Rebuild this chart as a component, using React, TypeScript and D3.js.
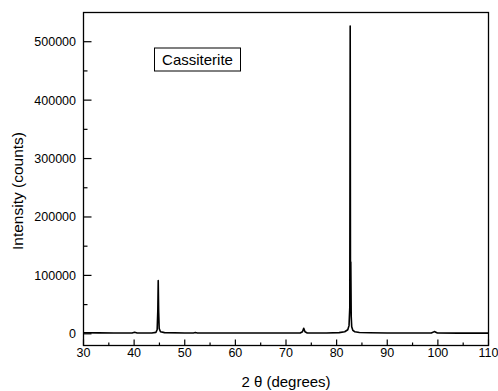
import React from "react";
import * as d3 from "d3";

const twoTheta = [30, 33, 36, 39.6, 40.1, 40.6, 43.5, 44.3, 44.55, 44.68, 44.76, 44.84, 44.95, 45.2, 46, 50, 51.7, 52.1, 52.5, 60, 66, 72.8, 73.25, 73.5, 73.75, 74.2, 78, 80.5, 81.6, 82.2, 82.45, 82.6, 82.68, 82.74, 82.8, 82.88, 82.98, 83.2, 83.6, 84.5, 86.5, 90, 95, 98.7, 99.3, 99.9, 104, 110];
const intensity = [1800, 1600, 1500, 1500, 2600, 1500, 1500, 2500, 7000, 40000, 91000, 40000, 9000, 3500, 2000, 1500, 1500, 2200, 1500, 1400, 1300, 1300, 3500, 9500, 3500, 1500, 1400, 2000, 3500, 7000, 14000, 45000, 527000, 50000, 123000, 30000, 12000, 6000, 3500, 2200, 1700, 1400, 1300, 1300, 3800, 1300, 1200, 1100];

const xMajor = [30, 40, 50, 60, 70, 80, 90, 100, 110];
const xMinor = [35, 45, 55, 65, 75, 85, 95, 105];
const yMajor = [0, 100000, 200000, 300000, 400000, 500000];
const yMinor = [50000, 150000, 250000, 350000, 450000];

const W = 498, H = 391;
const L = 83.5, R = 488.5, T = 12.5, B = 345.5;

export default function App() {
  const x = d3.scaleLinear().domain([30, 110]).range([L, R]);
  const y = d3.scaleLinear().domain([-20000, 550000]).range([B, T]);
  const pts = twoTheta.map((t, i) => [t, intensity[i]] as [number, number]);
  const line = d3.line<[number, number]>().x(d => x(d[0])).y(d => y(d[1]));
  const font = "'Liberation Sans', Arial, sans-serif";
  return (
    <svg width={W} height={H} style={{ position: "absolute", left: 0, top: 0, background: "#fff" }}>
      <path d={line(pts) || ""} fill="none" stroke="#000" strokeWidth={1.6} strokeLinejoin="round" />
      <rect x={L} y={T} width={R - L} height={B - T} fill="none" stroke="#000" strokeWidth={1.3} />
      {xMajor.map(v => (
        <line key={"xM" + v} x1={x(v)} x2={x(v)} y1={B} y2={B - 6} stroke="#000" strokeWidth={1.2} />
      ))}
      {xMinor.map(v => (
        <line key={"xm" + v} x1={x(v)} x2={x(v)} y1={B} y2={B - 3} stroke="#000" strokeWidth={1.2} />
      ))}
      {yMajor.map(v => (
        <line key={"yM" + v} x1={L} x2={L + 8} y1={y(v)} y2={y(v)} stroke="#000" strokeWidth={1.2} />
      ))}
      {yMinor.map(v => (
        <line key={"ym" + v} x1={L} x2={L + 4} y1={y(v)} y2={y(v)} stroke="#000" strokeWidth={1.2} />
      ))}
      {xMajor.map(v => (
        <text key={"xl" + v} x={x(v)} y={357} textAnchor="middle" fontFamily={font} fontSize={12.5} fill="#000">{v}</text>
      ))}
      {yMajor.map(v => (
        <text key={"yl" + v} x={76} y={y(v) + 4.5} textAnchor="end" fontFamily={font} fontSize={12.5} fill="#000">{v}</text>
      ))}
      <text x={(L + R) / 2} y={387} textAnchor="middle" fontFamily={font} fontSize={15} fill="#000">2 θ (degrees)</text>
      <text transform={`translate(23,191) rotate(-90)`} textAnchor="middle" fontFamily={font} fontSize={15.5} fill="#000">Intensity (counts)</text>
      <rect x={154.5} y={48} width={86} height={23} fill="#fff" stroke="#000" strokeWidth={1} />
      <text x={197.5} y={65} textAnchor="middle" fontFamily={font} fontSize={15} fill="#000">Cassiterite</text>
    </svg>
  );
}
